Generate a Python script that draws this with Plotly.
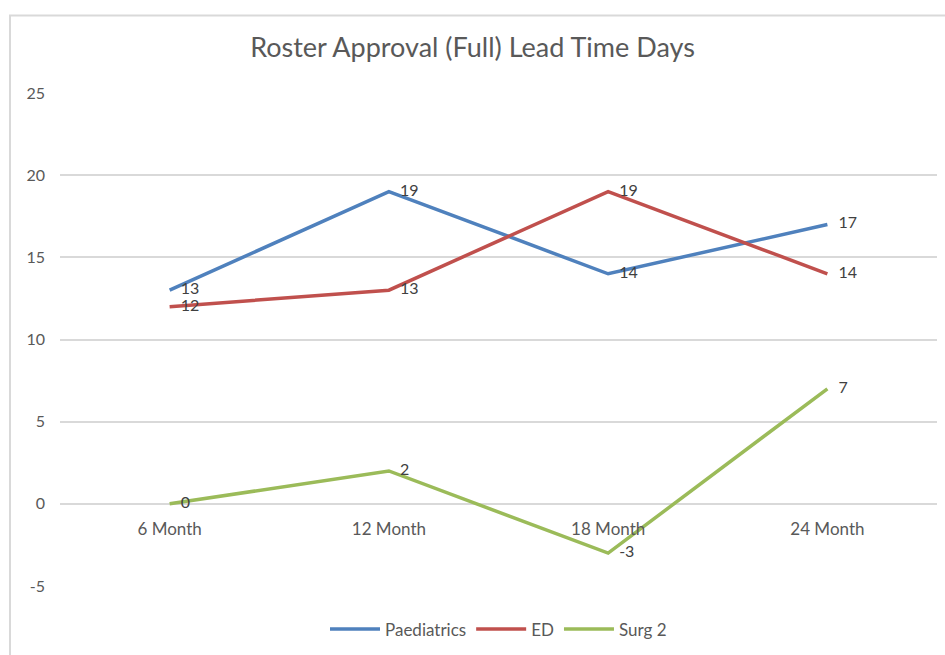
import plotly.graph_objects as go

categories = ["6 Month", "12 Month", "18 Month", "24 Month"]
paediatrics = [13, 19, 14, 17]
ed = [12, 13, 19, 14]
surg2 = [0, 2, -3, 7]
series_names = ["Paediatrics", "ED", "Surg 2"]
colors = ["#4F81BD", "#C0504D", "#9BBB59"]
y_ticks = [-5, 0, 5, 10, 15, 20, 25]
y_tick_labels = ["-5", "0", "5", "10", "15", "20", "25"]

FONT = "Lato"
fig = go.Figure()
for name, vals, col in zip(series_names, [paediatrics, ed, surg2], colors):
    fig.add_trace(go.Scatter(
        x=categories, y=vals, name=name, mode="lines+markers+text",
        line=dict(color=col, width=3.5),
        marker=dict(size=16, color="rgba(0,0,0,0)"),
        text=[str(v) for v in vals], textposition="middle right",
        textfont=dict(family=FONT, size=16, color="#404040"),
        cliponaxis=False,
    ))

fig.update_layout(
    width=945, height=655,
    margin=dict(l=60, r=8, t=93, b=65),
    paper_bgcolor="white", plot_bgcolor="white",
    title=dict(text="Roster Approval (Full) Lead Time Days", x=0.5, xanchor="center",
               y=1 - 48/655, yanchor="middle",
               font=dict(family=FONT, size=27, color="#595959")),
    font=dict(family=FONT, color="#595959"),
    xaxis=dict(type="category", range=[-0.5, 3.5], anchor="free", position=1/6,
               showgrid=False, showline=False, ticks="", ticklabelstandoff=13,
               tickfont=dict(family=FONT, size=17, color="#595959")),
    yaxis=dict(range=[-5, 25], tickvals=y_ticks, ticktext=y_tick_labels,
               showgrid=True, gridcolor="#D9D9D9",
               gridwidth=1.5, zeroline=False, showline=False, ticks="",
               ticklabelstandoff=14,
               tickfont=dict(family=FONT, size=16, color="#595959")),
    legend=dict(orientation="h", x=0.5, xanchor="center", y=-0.088, yanchor="middle",
                font=dict(family=FONT, size=17, color="#595959"), itemwidth=50,
                traceorder="normal"),
    showlegend=True,
)
fig.add_shape(type="rect", xref="paper", yref="paper",
              x0=-0.057, x1=1.02, y0=-0.2, y1=1.157,
              line=dict(color="#D9D9D9", width=2), fillcolor="rgba(0,0,0,0)", layer="below")

fig.write_html("out.html", config={"displayModeBar": False},
               post_script="document.body.style.margin='0';")
